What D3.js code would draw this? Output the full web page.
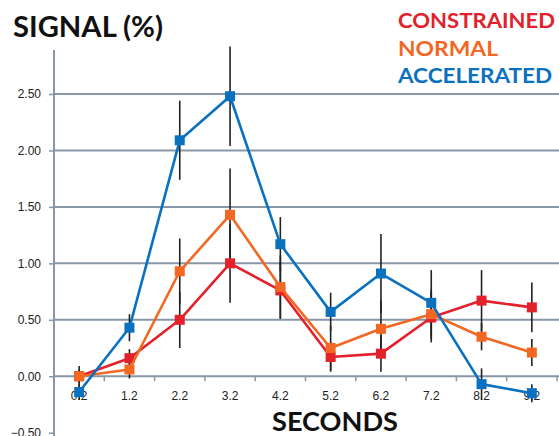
<!DOCTYPE html>
<html><head><meta charset="utf-8">
<script src="https://cdn.jsdelivr.net/npm/d3@7/dist/d3.min.js"></script>
<style>html,body{margin:0;padding:0;background:#fff;overflow:hidden}</style>
</head><body><svg id="c" width="559" height="436"></svg>
<script>
const categories = ["0.2","1.2","2.2","3.2","4.2","5.2","6.2","7.2","8.2","9.2"];
const yTicks = [-0.5, 0, 0.5, 1.0, 1.5, 2.0, 2.5];
const seriesNames = ["CONSTRAINED","NORMAL","ACCELERATED"];
const constrained = [0.00, 0.16, 0.50, 1.00, 0.76, 0.17, 0.20, 0.52, 0.67, 0.61];
const constrainedErr = [0.06, 0.08, 0.25, 0.35, 0.25, 0.13, 0.16, 0.22, 0.27, 0.22];
const normal = [0.00, 0.06, 0.93, 1.43, 0.79, 0.25, 0.42, 0.55, 0.35, 0.21];
const normalErr = [0.09, 0.08, 0.29, 0.41, 0.28, 0.20, 0.25, 0.22, 0.12, 0.12];
const accelerated = [-0.14, 0.43, 2.09, 2.48, 1.17, 0.57, 0.91, 0.65, -0.07, -0.15];
const acceleratedErr = [0.07, 0.12, 0.35, 0.44, 0.24, 0.17, 0.35, 0.29, 0.14, 0.08];
const colors = ["#e2212b", "#f26722", "#0a71c1"];

const svg = d3.select("#c");
const x = d3.scaleBand().domain(categories).range([54, 557]);
const y = d3.scaleLinear().domain([-0.5, 2.5]).range([432.7, 94]);
const axisTop = y(2.89);
const grid = "#8797a8";

// gridlines (excluding -0.5)
svg.append("g").selectAll("line").data(yTicks.filter(d => d > -0.5)).join("line")
  .attr("x1", 54).attr("x2", 559).attr("y1", d => y(d)).attr("y2", d => y(d))
  .attr("stroke", grid).attr("stroke-width", 2);

// y axis
const yAxis = d3.axisLeft(y).tickValues(yTicks).tickFormat(d3.format(".2f")).tickSize(5).tickPadding(8);
const ya = svg.append("g").attr("transform", "translate(54,0)").call(yAxis);
ya.select(".domain").remove();
ya.selectAll(".tick line").attr("stroke", grid).attr("stroke-width", 1.5);
ya.selectAll(".tick text").attr("fill", "#222").style("font", "12px 'Liberation Sans', Arial, sans-serif");
svg.append("line").attr("x1", 54).attr("x2", 54).attr("y1", axisTop).attr("y2", 436)
  .attr("stroke", grid).attr("stroke-width", 2);

// x axis at 0: ticks between categories
const bounds = categories.slice(1).map(c => x(c)).concat([x.range()[1]]);
svg.append("g").selectAll("line").data(bounds).join("line")
  .attr("x1", d => d).attr("x2", d => d).attr("y1", y(0)).attr("y2", y(0) + 5)
  .attr("stroke", grid).attr("stroke-width", 1.5);
svg.append("g").selectAll("text").data(categories).join("text")
  .attr("x", d => x(d) + x.bandwidth() / 2).attr("y", y(0) + 24)
  .attr("text-anchor", "middle").attr("fill", "#222")
  .style("font", "12px 'Liberation Sans', Arial, sans-serif").text(d => d);

const series = [
  {name: seriesNames[0], vals: constrained, err: constrainedErr, color: colors[0]},
  {name: seriesNames[1], vals: normal, err: normalErr, color: colors[1]},
  {name: seriesNames[2], vals: accelerated, err: acceleratedErr, color: colors[2]}
];
const cx = i => x(categories[i]) + x.bandwidth() / 2;

// error bars
series.forEach(s => {
  svg.append("g").selectAll("line").data(s.vals).join("line")
    .attr("x1", (d, i) => cx(i)).attr("x2", (d, i) => cx(i))
    .attr("y1", (d, i) => y(d + s.err[i])).attr("y2", (d, i) => y(d - s.err[i]))
    .attr("stroke", "#222").attr("stroke-width", 1.6);
});

// lines + markers
const line = d3.line().x((d, i) => cx(i)).y(d => y(d));
series.forEach(s => {
  svg.append("path").datum(s.vals).attr("d", line).attr("fill", "none")
    .attr("stroke", s.color).attr("stroke-width", 2.6).attr("stroke-linejoin", "round");
  svg.append("g").selectAll("rect").data(s.vals).join("rect")
    .attr("x", (d, i) => cx(i) - 5).attr("y", d => y(d) - 5)
    .attr("width", 10).attr("height", 10).attr("fill", s.color);
});

// title
svg.append("text").attr("x", 13).attr("y", 37).text("SIGNAL (%)")
  .attr("textLength", 150).attr("lengthAdjust", "spacingAndGlyphs")
  .attr("fill", "#111").style("font", "bold 29px Lato, 'Open Sans', sans-serif");

// legend
const legW = [157, 100, 154];
series.forEach((s, i) => {
  svg.append("text").attr("x", 398).attr("y", 28 + i * 27.5).text(s.name)
    .attr("textLength", legW[i]).attr("lengthAdjust", "spacingAndGlyphs")
    .attr("fill", s.color).style("font", "bold 20px Lato, 'Open Sans', sans-serif");
});

// x title
svg.append("text").attr("x", 272).attr("y", 431).text("SECONDS")
  .attr("textLength", 126).attr("lengthAdjust", "spacingAndGlyphs")
  .attr("fill", "#111").style("font", "bold 26px Lato, 'Open Sans', sans-serif");
</script></body></html>
